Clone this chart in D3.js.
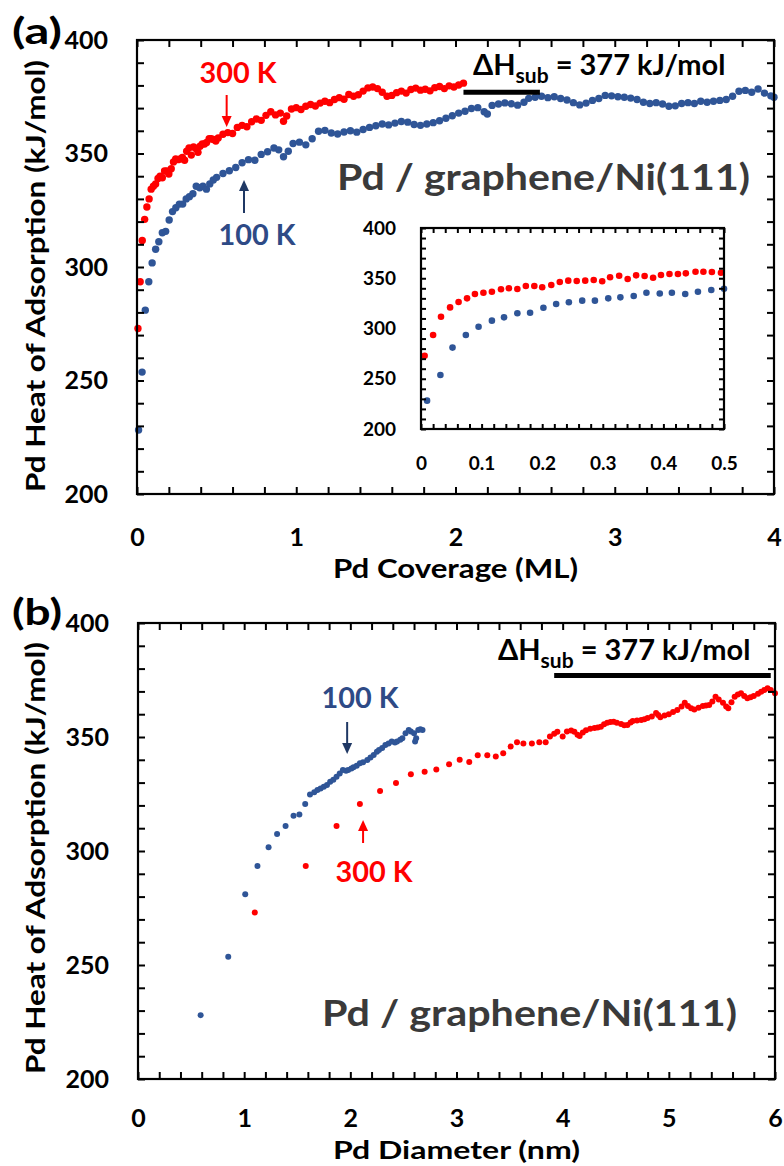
<!DOCTYPE html>
<html>
<head>
<meta charset="utf-8">
<script src="https://cdn.jsdelivr.net/npm/d3@7"></script>
<style>
body { margin: 0; background: #fff; }
text { font-family: Lato, "Open Sans", sans-serif; }
</style>
</head>
<body>
<div id="chart"></div>
<script>
// ---- panel (a): heat vs coverage (ML) ----
var redCovA = [0.006,0.02,0.033,0.048,0.062,0.076,0.089,0.103,0.117,0.132,0.145,0.159,0.173,0.187,0.2,0.215,0.229,0.243,0.257,0.271,0.285,0.299,0.312,0.327,0.341,0.355,0.369,0.383,0.396,0.41,0.424,0.437,0.453,0.466,0.48,0.495,
  0.51,0.54,0.57,0.60,0.63,0.66,0.69,0.72,0.75,0.78,0.81,0.84,0.87,0.90,0.92,0.94,0.97,1.00,1.03,1.06,1.09,1.12,1.15,1.18,1.21,1.24,1.27,1.30,1.33,1.36,1.39,1.42,1.45,1.48,1.51,1.54,1.57,1.60,1.63,1.66,1.69,1.72,1.75,1.78,1.81,1.84,1.87,1.90,1.93,1.96,1.99,2.02,2.05];
var redHeatA = [272.9,293.5,311.7,321,326.4,330,334.3,335.6,336.6,339,340,339.3,342.3,342.3,341,343.3,346.3,347.6,347.3,347.6,348.3,347,351,352.5,349.3,352.9,352.2,350.5,353.2,354.2,354.2,354.9,356.5,356.5,356.2,355.5,
  356.8,358.5,359.2,358.8,361.5,362.4,361.8,364.0,365.2,364.6,366.8,368.4,367.0,367.8,364.2,366.5,369.6,370.2,369.4,370.8,371.6,370.9,372.2,373.0,372.4,373.8,374.6,373.9,376.0,375.2,375.9,377.5,378.9,379.3,378.6,377.0,375.2,375.6,376.8,377.5,376.6,378.2,378.8,377.9,378.3,377.6,379.0,379.5,378.6,379.8,379.3,380.2,381.0];

var blueCovA = [0.01,0.032,0.052,0.074,0.095,0.117,0.137,0.159,0.18,0.202,0.223,0.244,0.266,0.287,0.309,0.329,0.351,0.372,0.394,0.414,0.436,0.457,0.479,
  0.50,0.54,0.58,0.62,0.66,0.70,0.74,0.78,0.82,0.86,0.89,0.92,0.95,0.98,1.02,1.06,1.10,1.14,1.18,1.22,1.26,1.30,1.34,1.38,1.42,1.46,1.50,1.54,1.58,1.62,1.66,1.70,1.74,1.78,1.82,1.86,1.90,1.94,1.98,2.02,2.06,2.10,2.14,2.18,2.20,2.23,2.27,2.31,2.35,2.39,2.43,2.46,2.50,2.54,2.58,2.62,2.66,2.70,2.74,2.78,2.82,2.86,2.90,2.94,2.98,3.02,3.06,3.10,3.14,3.18,3.22,3.26,3.30,3.34,3.38,3.42,3.46,3.50,3.54,3.58,3.62,3.66,3.70,3.74,3.78,3.82,3.86,3.90,3.94,3.98,4.00];
var blueHeatA = [228.2,253.7,281,293.5,301.8,307.8,311.1,315.1,315.7,320.7,324.4,326.1,327.7,327.7,330,331,332.3,335.6,334.9,335.6,334.3,336.6,338.3,
  339.5,341.2,342.4,343.8,345.9,347.3,347.0,349.6,350.8,352.4,351.6,348.6,351.0,354.4,355.0,353.8,356.5,359.8,360.2,359.0,358.6,359.5,360.0,359.4,360.6,361.5,362.2,363.0,362.6,363.4,364.1,363.8,362.8,362.4,363.0,363.6,364.4,365.5,366.6,367.8,368.6,369.8,370.2,368.4,367.4,371.2,371.8,372.3,371.9,371.3,372.6,374.3,374.8,375.2,374.6,375.0,374.2,373.6,372.4,371.4,372.2,373.4,374.2,375.6,375.4,375.0,374.8,374.4,373.8,372.6,372.0,372.4,371.8,370.8,371.0,372.0,372.4,372.0,373.0,372.6,373.0,373.4,373.8,375.2,377.4,377.8,377.0,378.4,376.6,375.4,374.8];

// ---- panel (b): heat vs diameter (nm) ----
var redDiamB = [1.10,1.58,1.87,2.09,2.28,2.43,2.57,2.70,2.81,2.93,3.03,3.12,3.20,3.29,3.37,3.44,3.51,3.57,3.63,3.71,3.78,3.84,
  3.88,3.92,3.95,4.00,4.04,4.08,4.11,4.14,4.16,4.19,4.22,4.26,4.30,4.33,4.36,4.39,4.42,4.45,4.48,4.51,4.55,4.58,4.61,4.64,4.66,4.70,4.74,4.77,4.80,4.84,4.88,4.90,4.92,4.96,5.00,5.04,5.08,5.12,5.15,5.18,5.21,5.24,5.28,5.32,5.35,5.38,5.41,5.44,5.47,5.51,5.54,5.56,5.59,5.62,5.65,5.68,5.71,5.74,5.77,5.80,5.84,5.87,5.90,5.93,5.96,6.00];
var redHeatB = [273,293.4,311,320.6,326.3,329.8,333.7,334.8,335.7,338,340,339,342,342,341.4,342.9,345.8,347.7,347.2,347.2,347.7,347.7,
  350.2,351.4,352.3,350.2,352.4,352.8,352.3,351.0,350.4,352.0,353.0,353.6,354.0,354.2,354.5,355.6,356.3,356.6,356.7,356.2,355.7,355.2,355.3,356.4,357.0,357.2,357.5,357.8,358.3,359.0,360.5,359.6,358.7,359.4,360.0,361.0,361.8,363.4,365.0,363.6,362.6,362.1,362.8,363.6,363.8,364.0,365.6,367.7,366.4,365.0,363.4,362.6,365.2,367.7,368.6,369.2,368.0,367.0,367.4,368.0,369.0,369.9,370.6,371.4,370.6,369.2];

var blueDiamB = [0.59,0.85,1.01,1.125,1.23,1.31,1.39,1.465,1.52,1.575,1.62,1.66,1.69,1.72,1.75,1.78,1.81,1.84,1.87,1.90,1.93,1.96,1.98,2.01,2.03,2.06,2.09,2.12,2.16,2.19,2.22,2.25,2.27,2.30,2.33,2.36,2.39,2.42,2.44,2.47,2.49,2.52,2.55,2.57,2.60,2.61,2.62,2.64,2.66,2.68];
var blueHeatB = [228,253.6,281,293.4,301.6,307.5,311,315.5,316,320.6,324.8,325.8,326.8,327.4,328.2,329.0,330.4,331.2,332.6,334.0,335.5,335.2,335.5,336.2,336.7,337.4,338.5,338.9,339.9,341.0,342.1,343.5,344.3,345.2,346.5,347.2,348.0,347.6,348.0,348.8,349.4,351.6,353.1,352.4,351.6,348.0,349.5,353.1,353.4,353.1];

var yTicks = [200, 250, 300, 350, 400];
var xTicksA = [0, 1, 2, 3, 4];
var xTicksB = [0, 1, 2, 3, 4, 5, 6];
var xTicksInset = [0, 0.1, 0.2, 0.3, 0.4, 0.5];
var dHsub = 377;

var RED = "#ff0000", BLUE = "#2f5597", TXTBLUE = "#2e4a86", NAVY = "#1f3864", GREY = "#3a3a3a";

var width = 784, height = 1166;
var svg = d3.select("#chart").append("svg")
    .attr("width", width)
    .attr("height", height);

function zip(xs, ys) {
    return xs.map(function(d, i) { return {x: d, y: ys[i]}; });
}

// ticks on all four sides, pointing inward
function frame(g, x, y, xMinor, yMinor, len) {
    var x0 = x.range()[0], x1 = x.range()[1];
    var y0 = y.range()[0], y1 = y.range()[1];
    g.append("g").attr("transform", "translate(0," + y0 + ")")
        .call(d3.axisBottom(x).tickValues(xMinor).tickSize(-len).tickFormat(""));
    g.append("g").attr("transform", "translate(0," + y1 + ")")
        .call(d3.axisTop(x).tickValues(xMinor).tickSize(-len).tickFormat(""));
    g.append("g").attr("transform", "translate(" + x0 + ",0)")
        .call(d3.axisLeft(y).tickValues(yMinor).tickSize(-len).tickFormat(""));
    g.append("g").attr("transform", "translate(" + x1 + ",0)")
        .call(d3.axisRight(y).tickValues(yMinor).tickSize(-len).tickFormat(""));
    g.selectAll(".domain").remove();
    g.selectAll(".tick line").attr("stroke", "#000").attr("stroke-width", 2);
    g.append("rect")
        .attr("x", x0).attr("y", y1)
        .attr("width", x1 - x0).attr("height", y0 - y1)
        .attr("fill", "none").attr("stroke", "#000").attr("stroke-width", 2.2);
}

function labels(g, x, y, xVals, yVals, xPad, yPad, size, fmt) {
    var y0 = y.range()[0], x0 = x.range()[0];
    var gx = g.append("g").attr("transform", "translate(0," + y0 + ")")
        .call(d3.axisBottom(x).tickValues(xVals).tickSize(0).tickPadding(xPad).tickFormat(fmt || d3.format("d")));
    var gy = g.append("g").attr("transform", "translate(" + x0 + ",0)")
        .call(d3.axisLeft(y).tickValues(yVals).tickSize(0).tickPadding(yPad).tickFormat(d3.format("d")));
    [gx, gy].forEach(function(a) {
        a.select(".domain").remove();
        a.attr("font-family", null).attr("font-size", null);
        a.selectAll("text").attr("font-size", size).attr("font-weight", "bold").attr("fill", "#000");
    });
}

function dots(g, data, x, y, r, color) {
    g.append("g").selectAll("circle")
        .data(data)
        .enter()
        .append("circle")
        .attr("cx", function(d) { return x(d.x); })
        .attr("cy", function(d) { return y(d.y); })
        .attr("r", r)
        .attr("fill", color);
}

function arrow(g, px, pyTail, pyTip, color) {
    var dir = pyTip > pyTail ? 1 : -1;
    g.append("line")
        .attr("x1", px).attr("x2", px)
        .attr("y1", pyTail).attr("y2", pyTip - dir * 8)
        .attr("stroke", color).attr("stroke-width", 2);
    g.append("path")
        .attr("d", "M" + (px - 5) + "," + (pyTip - dir * 11) + "L" + (px + 5) + "," + (pyTip - dir * 11) + "L" + px + "," + pyTip + "Z")
        .attr("fill", color);
}

function dhLabel(g, px, py) {
    var t = g.append("text").attr("x", px).attr("y", py)
        .attr("font-family", "'Liberation Sans', Arial, sans-serif")
        .attr("font-weight", "bold").attr("font-size", 29).attr("fill", "#000");
    t.append("tspan").text("\u0394H");
    t.append("tspan").attr("dy", 8).attr("font-size", 21).text("sub");
    t.append("tspan").attr("dy", -8).text(" = " + dHsub + " kJ/mol");
}

// text stretched to the width it has in the figure
function wideText(g, px, py, txt, size, len, anchor) {
    return g.append("text").attr("x", px).attr("y", py)
        .attr("text-anchor", anchor || "start")
        .attr("font-size", size).attr("font-weight", "bold")
        .attr("textLength", len).attr("lengthAdjust", "spacingAndGlyphs")
        .text(txt);
}

function yTitle(g, cx, cy) {
    g.append("text")
        .attr("transform", "translate(" + cx + "," + cy + ") rotate(-90)")
        .attr("text-anchor", "middle")
        .attr("dominant-baseline", "central")
        .attr("font-size", 27).attr("font-weight", "bold")
        .attr("textLength", 432).attr("lengthAdjust", "spacingAndGlyphs")
        .text("Pd Heat of Adsorption (kJ/mol)");
}

function tempLabel(g, px, py, txt, color) {
    g.append("text").attr("x", px).attr("y", py)
        .attr("text-anchor", "middle")
        .attr("font-family", "'Liberation Sans', Arial, sans-serif")
        .attr("font-weight", "bold").attr("font-size", 28)
        .attr("textLength", 77).attr("lengthAdjust", "spacingAndGlyphs")
        .attr("fill", color).text(txt);
}

function range(a, b, step) {
    var n = Math.round((b - a) / step), out = [];
    for (var i = 0; i <= n; i++) out.push(+(a + i * step).toFixed(4));
    return out;
}

// ================= panel (a) =================
var ga = svg.append("g");
var xA = d3.scaleLinear().domain([0, 4]).range([137, 774]);
var yA = d3.scaleLinear().domain([200, 400]).range([494, 40]);

dots(ga, zip(blueCovA, blueHeatA), xA, yA, 3.7, BLUE);
dots(ga, zip(redCovA, redHeatA), xA, yA, 3.7, RED);
frame(ga, xA, yA, range(0, 4, 0.2), range(200, 400, 10), 7);
labels(ga, xA, yA, xTicksA, yTicks, 34, 29, 25);
yTitle(ga, 34, 276);
wideText(ga, 333, 578, "Pd Coverage (ML)", 26, 245);
wideText(ga, 12, 44, "(a)", 37, 50);

ga.append("line").attr("x1", xA(2.05)).attr("x2", xA(2.53))
    .attr("y1", yA(dHsub)).attr("y2", yA(dHsub))
    .attr("stroke", "#000").attr("stroke-width", 5);
dhLabel(ga, 473, 75);
tempLabel(ga, 238, 83, "300 K", RED);
arrow(ga, xA(0.563), 95, 127, RED);
tempLabel(ga, 257, 245, "100 K", TXTBLUE);
arrow(ga, xA(0.672), 213, 180, NAVY);
wideText(ga, 337, 190, "Pd / graphene/Ni(111)", 37, 413).attr("fill", GREY);

// inset
var gi = ga.append("g");
var xI = d3.scaleLinear().domain([0, 0.5]).range([421, 724]);
var yI = d3.scaleLinear().domain([200, 400]).range([429, 228]);
gi.append("rect").attr("x", 421).attr("y", 228).attr("width", 303).attr("height", 201).attr("fill", "#fff");
dots(gi, zip(blueCovA, blueHeatA).filter(function(d) { return d.x <= 0.5; }), xI, yI, 3.3, BLUE);
dots(gi, zip(redCovA, redHeatA).filter(function(d) { return d.x <= 0.5; }), xI, yI, 3.3, RED);
frame(gi, xI, yI, range(0, 0.5, 0.02), range(200, 400, 10), 5);
labels(gi, xI, yI, xTicksInset, yTicks, 28, 25, 19, function(d) { return d === 0 ? "0" : d3.format(".1f")(d); });

// ================= panel (b) =================
var gb = svg.append("g");
var xB = d3.scaleLinear().domain([0, 6]).range([138, 775]);
var yB = d3.scaleLinear().domain([200, 400]).range([1079, 623]);

dots(gb, zip(redDiamB, redHeatB), xB, yB, 3, RED);
dots(gb, zip(blueDiamB, blueHeatB), xB, yB, 3, BLUE);
frame(gb, xB, yB, range(0, 6, 0.2), range(200, 400, 10), 7);
labels(gb, xB, yB, xTicksB, yTicks, 30, 29, 25);
yTitle(gb, 34, 858);
wideText(gb, 333, 1159, "Pd Diameter (nm)", 25, 247);
wideText(gb, 12, 625, "(b)", 37, 50);

gb.append("line").attr("x1", xB(3.92)).attr("x2", xB(5.96))
    .attr("y1", yB(dHsub)).attr("y2", yB(dHsub))
    .attr("stroke", "#000").attr("stroke-width", 5);
dhLabel(gb, 498, 660);
tempLabel(gb, 360, 708, "100 K", TXTBLUE);
arrow(gb, xB(1.97), 722, 754, NAVY);
tempLabel(gb, 374, 882, "300 K", RED);
arrow(gb, xB(2.12), 843, 820, RED);
wideText(gb, 322, 1026, "Pd / graphene/Ni(111)", 37, 415).attr("fill", GREY);
</script>
</body>
</html>
